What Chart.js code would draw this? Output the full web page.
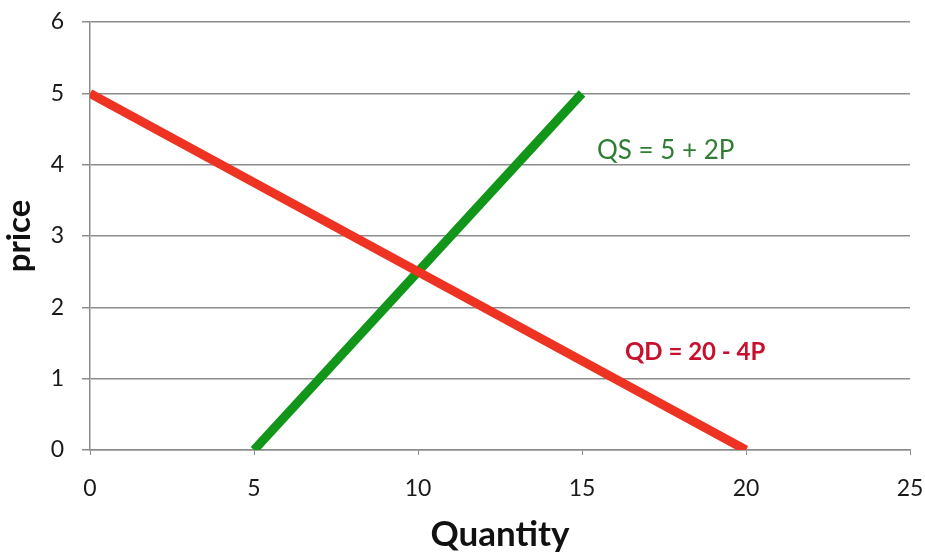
<!DOCTYPE html>
<html>
<head>
<meta charset="utf-8">
<script src="https://cdn.jsdelivr.net/npm/chart.js@4"></script>
<style>
  html, body { margin: 0; padding: 0; background: #fff; }
  #wrap { width: 925px; height: 556px; }
</style>
</head>
<body>
<div id="wrap"><canvas id="chart"></canvas></div>
<script>
// demand: QD = 20 - 4P
var demandQ = [0, 20];
var demandP = [5, 0];
// supply: QS = 5 + 2P
var supplyQ = [5, 15];
var supplyP = [0, 5];

var xTicks = [0, 5, 10, 15, 20, 25];
var yTicks = [0, 1, 2, 3, 4, 5, 6];

function toPoints(xs, ys) {
    return xs.map(function(x, i) { return {x: x, y: ys[i]}; });
}

var FONT = "Lato, 'Open Sans', sans-serif";

// text labels sitting on the chart at data coordinates
var labelPlugin = {
    id: 'curveLabels',
    afterDatasetsDraw: function(chart) {
        var ctx = chart.ctx;
        var xs = chart.scales.x, ys = chart.scales.y;
        var items = [
            {text: 'QS = 5 + 2P', x: 17.55, y: 4.2, color: '#2f7d32', font: 'normal 26px '},
            {text: 'QD = 20 - 4P', x: 18.45, y: 1.37, color: '#c8102e', font: 'bold 24px '}
        ];
        ctx.save();
        ctx.textAlign = 'center';
        ctx.textBaseline = 'middle';
        items.forEach(function(it) {
            ctx.font = it.font + FONT;
            ctx.fillStyle = it.color;
            ctx.fillText(it.text, xs.getPixelForValue(it.x), ys.getPixelForValue(it.y));
        });
        ctx.restore();
    }
};

var ctx = document.getElementById('chart').getContext('2d');
new Chart(ctx, {
    type: 'scatter',
    data: {
        datasets: [{
            label: 'QD',
            data: toPoints(demandQ, demandP),
            showLine: true,
            borderColor: '#ee3322',
            borderWidth: 9,
            pointRadius: 0,
            borderCapStyle: 'butt'
        }, {
            label: 'QS',
            data: toPoints(supplyQ, supplyP),
            showLine: true,
            borderColor: '#12961a',
            borderWidth: 9,
            pointRadius: 0,
            borderCapStyle: 'butt'
        }]
    },
    options: {
        responsive: true,
        maintainAspectRatio: false,
        animation: false,
        layout: { padding: { top: 22, right: 15, left: 0, bottom: 0 } },
        plugins: {
            legend: { display: false },
            tooltip: { enabled: false }
        },
        scales: {
            x: {
                type: 'linear',
                min: 0,
                max: 25,
                afterBuildTicks: function(s) { s.ticks = xTicks.map(function(v) { return {value: v}; }); },
                afterFit: function(s) { s.height = 106; s.paddingLeft = 0; s.paddingRight = 0; },
                border: { color: '#8c8c8c', width: 1.5 },
                grid: { drawOnChartArea: false, drawTicks: true, tickLength: 5, color: '#8c8c8c' },
                ticks: { color: '#1a1a1a', padding: 20, font: { size: 23, family: FONT } },
                title: {
                    display: true,
                    text: 'Quantity',
                    color: '#111',
                    padding: 0,
                    font: { size: 35, weight: 'bold', family: FONT }
                }
            },
            y: {
                min: 0,
                max: 6,
                afterBuildTicks: function(s) { s.ticks = yTicks.map(function(v) { return {value: v}; }); },
                afterFit: function(s) { s.width = 90; s.paddingTop = 0; s.paddingBottom = 0; },
                border: { color: '#8c8c8c', width: 1.5 },
                grid: { color: '#8c8c8c', lineWidth: 1.5, tickLength: 8 },
                ticks: { color: '#1a1a1a', padding: 18, font: { size: 23, family: FONT } },
                title: {
                    display: true,
                    text: 'price',
                    color: '#111',
                    padding: 0,
                    font: { size: 33, weight: 'bold', family: FONT }
                }
            }
        }
    },
    plugins: [labelPlugin]
});
</script>
</body>
</html>
